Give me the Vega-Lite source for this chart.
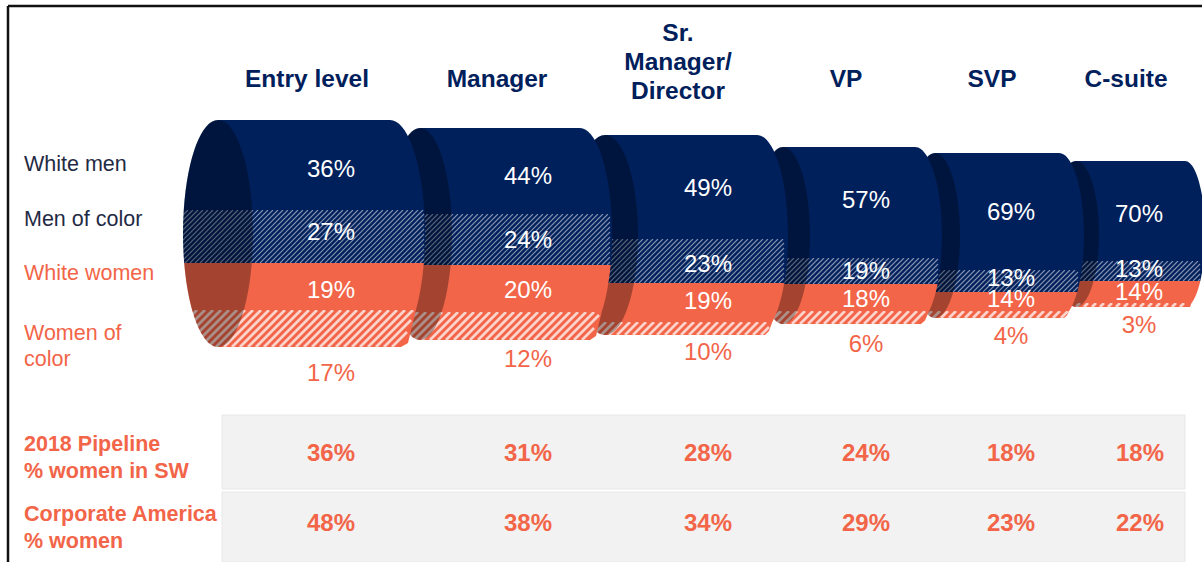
{"$schema":"https://vega.github.io/schema/vega-lite/v6.json","width":1202,"height":562,"padding":0,"autosize":{"type":"none"},"background":"white","view":{"stroke":null},
"resolve":{"scale":{"fill":"independent","stroke":"independent","strokeWidth":"independent","shape":"independent"}},
"encoding":{"x":{"field":"x","type":"quantitative","axis":null,"scale":{"domain":[0,1202],"nice":false,"zero":false}},"y":{"field":"y","type":"quantitative","axis":null,"scale":{"domain":[562,0],"nice":false,"zero":false}}},
"layer":[
{"data":{"values":[{"x":8,"x2":1202,"y":6,"y2":6},{"x":8,"x2":8,"y":6,"y2":562}]},"mark":{"type":"rule","stroke":"#111111","strokeWidth":2.5},"encoding":{"x2":{"field":"x2"},"y2":{"field":"y2"}}},
{"data":{"values":[{"row":"2018 Pipeline","x":222,"x2":1185,"y":415,"y2":489},{"row":"Corporate America","x":222,"x2":1185,"y":492,"y2":562}]},"mark":{"type":"rect","fill":"#f2f2f2","stroke":"#e8e8e8","strokeWidth":1},"encoding":{"x2":{"field":"x2"},"y2":{"field":"y2"}}},
{"data":{"values":[
{"level":"C-suite","group":"Men of color","share":13,"piece":"C2","part":"Men of color","x":1076,"y":234},
{"level":"C-suite","group":"Women of color","share":3,"piece":"C4","part":"Women of color","x":1076,"y":234},
{"level":"C-suite","group":"Men of color","piece":"CN","part":"stripe navy","x":1058,"y":281},
{"level":"C-suite","group":"Women of color","piece":"CO","part":"stripe orange","x":1068,"y":307},
{"level":"C-suite","group":"White men","share":70,"piece":"C1","part":"White men","x":1076,"y":234},
{"level":"C-suite","group":"White women","share":14,"piece":"C3","part":"White women","x":1076,"y":234},
{"level":"C-suite","piece":"CC","part":"cap","x":1076,"y":234},
{"level":"SVP","group":"Men of color","share":13,"piece":"S2","part":"Men of color","x":935,"y":235.5},
{"level":"SVP","group":"Women of color","share":4,"piece":"S4","part":"Women of color","x":935,"y":235.5},
{"level":"SVP","group":"Men of color","piece":"SN","part":"stripe navy","x":913,"y":292},
{"level":"SVP","group":"Women of color","piece":"SO","part":"stripe orange","x":925,"y":318},
{"level":"SVP","group":"White men","share":69,"piece":"S1","part":"White men","x":935,"y":235.5},
{"level":"SVP","group":"White women","share":14,"piece":"S3","part":"White women","x":935,"y":235.5},
{"level":"SVP","piece":"SC","part":"cap","x":935,"y":235.5},
{"level":"VP","group":"Men of color","share":19,"piece":"V2","part":"Men of color","x":783,"y":235.5},
{"level":"VP","group":"Women of color","share":6,"piece":"V4","part":"Women of color","x":783,"y":235.5},
{"level":"VP","group":"Men of color","piece":"VN","part":"stripe navy","x":758,"y":284},
{"level":"VP","group":"Women of color","piece":"VO","part":"stripe orange","x":768,"y":324},
{"level":"VP","group":"White men","share":57,"piece":"V1","part":"White men","x":783,"y":235.5},
{"level":"VP","group":"White women","share":18,"piece":"V3","part":"White women","x":783,"y":235.5},
{"level":"VP","piece":"VC","part":"cap","x":783,"y":235.5},
{"level":"Sr. Manager/Director","group":"Men of color","share":23,"piece":"D2","part":"Men of color","x":605,"y":235},
{"level":"Sr. Manager/Director","group":"Women of color","share":10,"piece":"D4","part":"Women of color","x":605,"y":235},
{"level":"Sr. Manager/Director","group":"Men of color","piece":"DN","part":"stripe navy","x":564,"y":283},
{"level":"Sr. Manager/Director","group":"Women of color","piece":"DO","part":"stripe orange","x":585,"y":335},
{"level":"Sr. Manager/Director","group":"White men","share":49,"piece":"D1","part":"White men","x":605,"y":235},
{"level":"Sr. Manager/Director","group":"White women","share":19,"piece":"D3","part":"White women","x":605,"y":235},
{"level":"Sr. Manager/Director","piece":"DC","part":"cap","x":605,"y":235},
{"level":"Manager","group":"Men of color","share":24,"piece":"M2","part":"Men of color","x":420,"y":234},
{"level":"Manager","group":"Women of color","share":12,"piece":"M4","part":"Women of color","x":420,"y":234},
{"level":"Manager","group":"Men of color","piece":"MN","part":"stripe navy","x":372,"y":265},
{"level":"Manager","group":"Women of color","piece":"MO","part":"stripe orange","x":390,"y":340},
{"level":"Manager","group":"White men","share":44,"piece":"M1","part":"White men","x":420,"y":234},
{"level":"Manager","group":"White women","share":20,"piece":"M3","part":"White women","x":420,"y":234},
{"level":"Manager","piece":"MC","part":"cap","x":420,"y":234},
{"level":"Entry level","group":"Men of color","share":27,"piece":"E2","part":"Men of color","x":218,"y":233.5},
{"level":"Entry level","group":"Women of color","share":17,"piece":"E4","part":"Women of color","x":218,"y":233.5},
{"level":"Entry level","group":"Men of color","piece":"EN","part":"stripe navy","x":135,"y":263},
{"level":"Entry level","group":"Women of color","piece":"EO","part":"stripe orange","x":160,"y":347},
{"level":"Entry level","group":"White men","share":36,"piece":"E1","part":"White men","x":218,"y":233.5},
{"level":"Entry level","group":"White women","share":19,"piece":"E3","part":"White women","x":218,"y":233.5},
{"level":"Entry level","piece":"EC","part":"cap","x":218,"y":233.5}
]},
"mark":{"type":"point","filled":true,"opacity":1},
"encoding":{
"size":{"value":4},
"fill":{"field":"part","type":"nominal","legend":null,"scale":{"domain":["White men","Men of color","White women","Women of color","stripe navy","stripe orange","cap"],"range":["#00205c","#00205c","#f26548","#f26548","transparent","transparent","rgba(0,0,0,0.32)"]}},
"stroke":{"field":"part","type":"nominal","legend":null,"scale":{"domain":["White men","Men of color","White women","Women of color","stripe navy","stripe orange","cap"],"range":["transparent","transparent","transparent","transparent","rgba(255,255,255,0.5)","rgba(255,255,255,0.72)","transparent"]}},
"strokeWidth":{"field":"part","type":"ordinal","legend":null,"scale":{"type":"ordinal","domain":["White men","Men of color","White women","Women of color","stripe navy","stripe orange","cap"],"range":[0,0,0,0,1.1,2.7,0]}},
"shape":{"field":"piece","type":"nominal","legend":null,"scale":{"domain":["E1","E2","E3","E4","EC","EN","EO","M1","M2","M3","M4","MC","MN","MO","D1","D2","D3","D4","DC","DN","DO","V1","V2","V3","V4","VC","VN","VO","S1","S2","S3","S4","SC","SN","SO","C1","C2","C3","C4","CC","CN","CO"],
"range":[
"M0 -113.5A35 113.5 0 0 0 -34.2 -23.5L206.2 -23.5A35 113.5 0 0 0 172 -113.5Z",
"M-34.2 -23.5A35 113.5 0 0 0 -33.8 29.5L205.8 29.5A35 113.5 0 0 0 206.2 -23.5Z",
"M-33.8 29.5A35 113.5 0 0 0 -25.9 76.5L197.9 76.5A35 113.5 0 0 0 205.8 29.5Z",
"M-25.9 76.5A35 113.5 0 0 0 0 113.5L183 113.5L190 109.5L197.9 76.5Z",
"M-35 0A35 113.5 0 1 0 35 0A35 113.5 0 1 0 -35 0Z",
"M0 0l53 -53M5 0l53 -53M10 0l53 -53M15 0l53 -53M20 0l53 -53M25 0l53 -53M30 0l53 -53M35 0l53 -53M40 0l53 -53M45 0l53 -53M50 0l53 -53M55 0l53 -53M60 0l53 -53M65 0l53 -53M70 0l53 -53M75 0l53 -53M80 0l53 -53M85 0l53 -53M90 0l53 -53M95 0l53 -53M100 0l53 -53M105 0l53 -53M110 0l53 -53M115 0l53 -53M120 0l53 -53M125 0l53 -53M130 0l53 -53M135 0l53 -53M140 0l53 -53M145 0l53 -53M150 0l53 -53M155 0l53 -53M160 0l53 -53M165 0l53 -53M170 0l53 -53M175 0l53 -53M180 0l53 -53M185 0l53 -53M190 0l53 -53M195 0l53 -53M200 0l53 -53M205 0l53 -53M210 0l53 -53M215 0l53 -53M220 0l53 -53M225 0l53 -53M230 0l53 -53M235 0l53 -53M240 0l49 -49M245 0l44 -44M250 0l39 -39M255 0l34 -34M260 0l29 -29M265 0l24 -24M270 0l19 -19M275 0l14 -14M280 0l9 -9M285 0l4 -4",
"M0 0l37 -37M8 0l37 -37M16 0l37 -37M24 0l37 -37M32 0l37 -37M40 0l37 -37M48 0l37 -37M56 0l37 -37M64 0l37 -37M72 0l37 -37M80 0l37 -37M88 0l37 -37M96 0l37 -37M104 0l37 -37M112 0l37 -37M120 0l37 -37M128 0l37 -37M136 0l37 -37M144 0l37 -37M152 0l37 -37M160 0l37 -37M168 0l37 -37M176 0l37 -37M184 0l37 -37M192 0l37 -37M200 0l37 -37M208 0l37 -37M216 0l37 -37M224 0l27 -27M232 0l15 -15",
"M0 -106A32 106 0 0 0 -31.4 -20L191.4 -20A32 106 0 0 0 160 -106Z",
"M-31.4 -20A32 106 0 0 0 -30.6 31L190.6 31A32 106 0 0 0 191.4 -20Z",
"M-30.6 31A32 106 0 0 0 -21.7 78L181.7 78A32 106 0 0 0 190.6 31Z",
"M-21.7 78A32 106 0 0 0 0 106L170 106L176 102L181.7 78Z",
"M-32 0A32 106 0 1 0 32 0A32 106 0 1 0 -32 0Z",
"M0 0l51 -51M5 0l51 -51M10 0l51 -51M15 0l51 -51M20 0l51 -51M25 0l51 -51M30 0l51 -51M35 0l51 -51M40 0l51 -51M45 0l51 -51M50 0l51 -51M55 0l51 -51M60 0l51 -51M65 0l51 -51M70 0l51 -51M75 0l51 -51M80 0l51 -51M85 0l51 -51M90 0l51 -51M95 0l51 -51M100 0l51 -51M105 0l51 -51M110 0l51 -51M115 0l51 -51M120 0l51 -51M125 0l51 -51M130 0l51 -51M135 0l51 -51M140 0l51 -51M145 0l51 -51M150 0l51 -51M155 0l51 -51M160 0l51 -51M165 0l51 -51M170 0l51 -51M175 0l51 -51M180 0l51 -51M185 0l51 -51M190 0l48 -48M195 0l43 -43M200 0l38 -38M205 0l33 -33M210 0l28 -28M215 0l23 -23M220 0l18 -18M225 0l13 -13M230 0l8 -8M235 0l3 -3",
"M0 0l28 -28M8 0l28 -28M16 0l28 -28M24 0l28 -28M32 0l28 -28M40 0l28 -28M48 0l28 -28M56 0l28 -28M64 0l28 -28M72 0l28 -28M80 0l28 -28M88 0l28 -28M96 0l28 -28M104 0l28 -28M112 0l28 -28M120 0l28 -28M128 0l28 -28M136 0l28 -28M144 0l28 -28M152 0l28 -28M160 0l28 -28M168 0l28 -28M176 0l28 -28M184 0l25 -25M192 0l12 -12",
"M0 -100A33 100 0 0 0 -33 4L183 4A31 100 0 0 0 152 -100Z",
"M-33 4A33 100 0 0 0 -28.9 48L179.2 48A31 100 0 0 0 183 4Z",
"M-28.9 48A33 100 0 0 0 -16.3 87L167.3 87A31 100 0 0 0 179.2 48Z",
"M-16.3 87A33 100 0 0 0 0 100L160 100L164 96L167.3 87Z",
"M-33 0A33 100 0 1 0 33 0A33 100 0 1 0 -33 0Z",
"M0 0l44 -44M5 0l44 -44M10 0l44 -44M15 0l44 -44M20 0l44 -44M25 0l44 -44M30 0l44 -44M35 0l44 -44M40 0l44 -44M45 0l44 -44M50 0l44 -44M55 0l44 -44M60 0l44 -44M65 0l44 -44M70 0l44 -44M75 0l44 -44M80 0l44 -44M85 0l44 -44M90 0l44 -44M95 0l44 -44M100 0l44 -44M105 0l44 -44M110 0l44 -44M115 0l44 -44M120 0l44 -44M125 0l44 -44M130 0l44 -44M135 0l44 -44M140 0l44 -44M145 0l44 -44M150 0l44 -44M155 0l44 -44M160 0l44 -44M165 0l44 -44M170 0l44 -44M175 0l44 -44M180 0l40 -40M185 0l35 -35M190 0l30 -30M195 0l25 -25M200 0l20 -20M205 0l15 -15M210 0l10 -10M215 0l5 -5",
"M0 0l13 -13M8 0l13 -13M16 0l13 -13M24 0l13 -13M32 0l13 -13M40 0l13 -13M48 0l13 -13M56 0l13 -13M64 0l13 -13M72 0l13 -13M80 0l13 -13M88 0l13 -13M96 0l13 -13M104 0l13 -13M112 0l13 -13M120 0l13 -13M128 0l13 -13M136 0l13 -13M144 0l13 -13M152 0l13 -13M160 0l13 -13M168 0l13 -13M176 0l8 -8",
"M0 -88.5A27 88.5 0 0 0 -26.1 22.5L158.1 22.5A27 88.5 0 0 0 132 -88.5Z",
"M-26.1 22.5A27 88.5 0 0 0 -22.6 48.5L154.6 48.5A27 88.5 0 0 0 158.1 22.5Z",
"M-22.6 48.5A27 88.5 0 0 0 -14.1 75.5L146.1 75.5A27 88.5 0 0 0 154.6 48.5Z",
"M-14.1 75.5A27 88.5 0 0 0 0 88.5L138 88.5L142 85L146.1 75.5Z",
"M-27 0A27 88.5 0 1 0 27 0A27 88.5 0 1 0 -27 0Z",
"M0 0l26 -26M5 0l26 -26M10 0l26 -26M15 0l26 -26M20 0l26 -26M25 0l26 -26M30 0l26 -26M35 0l26 -26M40 0l26 -26M45 0l26 -26M50 0l26 -26M55 0l26 -26M60 0l26 -26M65 0l26 -26M70 0l26 -26M75 0l26 -26M80 0l26 -26M85 0l26 -26M90 0l26 -26M95 0l26 -26M100 0l26 -26M105 0l26 -26M110 0l26 -26M115 0l26 -26M120 0l26 -26M125 0l26 -26M130 0l26 -26M135 0l26 -26M140 0l26 -26M145 0l26 -26M150 0l26 -26M155 0l25 -25M160 0l20 -20M165 0l15 -15M170 0l10 -10M175 0l5 -5",
"M0 0l13 -13M8 0l13 -13M16 0l13 -13M24 0l13 -13M32 0l13 -13M40 0l13 -13M48 0l13 -13M56 0l13 -13M64 0l13 -13M72 0l13 -13M80 0l13 -13M88 0l13 -13M96 0l13 -13M104 0l13 -13M112 0l13 -13M120 0l13 -13M128 0l13 -13M136 0l13 -13M144 0l13 -13",
"M0 -82.5A25 82.5 0 0 0 -22.7 34.5L146.7 34.5A25 82.5 0 0 0 124 -82.5Z",
"M-22.7 34.5A25 82.5 0 0 0 -18.2 56.5L142.2 56.5A25 82.5 0 0 0 146.7 34.5Z",
"M-18.2 56.5A25 82.5 0 0 0 -10.1 75.5L134.1 75.5A25 82.5 0 0 0 142.2 56.5Z",
"M-10.1 75.5A25 82.5 0 0 0 0 82.5L129 82.5L132 80L134.1 75.5Z",
"M-25 0A25 82.5 0 1 0 25 0A25 82.5 0 1 0 -25 0Z",
"M0 0l22 -22M5 0l22 -22M10 0l22 -22M15 0l22 -22M20 0l22 -22M25 0l22 -22M30 0l22 -22M35 0l22 -22M40 0l22 -22M45 0l22 -22M50 0l22 -22M55 0l22 -22M60 0l22 -22M65 0l22 -22M70 0l22 -22M75 0l22 -22M80 0l22 -22M85 0l22 -22M90 0l22 -22M95 0l22 -22M100 0l22 -22M105 0l22 -22M110 0l22 -22M115 0l22 -22M120 0l22 -22M125 0l22 -22M130 0l22 -22M135 0l22 -22M140 0l22 -22M145 0l20 -20M150 0l15 -15M155 0l10 -10M160 0l5 -5",
"M0 0l7 -7M8 0l7 -7M16 0l7 -7M24 0l7 -7M32 0l7 -7M40 0l7 -7M48 0l7 -7M56 0l7 -7M64 0l7 -7M72 0l7 -7M80 0l7 -7M88 0l7 -7M96 0l7 -7M104 0l7 -7M112 0l7 -7M120 0l7 -7M128 0l7 -7M136 0l7 -7",
"M0 -73A23 73 0 0 0 -21.4 27L127.6 27A20 73 0 0 0 109 -73Z",
"M-21.4 27A23 73 0 0 0 -17.6 47L124.3 47A20 73 0 0 0 127.6 27Z",
"M-17.6 47A23 73 0 0 0 -7.5 69L115.5 69A20 73 0 0 0 124.3 47Z",
"M-7.5 69A23 73 0 0 0 0 73L114 73L115.5 69Z",
"M-23 0A23 73 0 1 0 23 0A23 73 0 1 0 -23 0Z",
"M0 0l20 -20M5 0l20 -20M10 0l20 -20M15 0l20 -20M20 0l20 -20M25 0l20 -20M30 0l20 -20M35 0l20 -20M40 0l20 -20M45 0l20 -20M50 0l20 -20M55 0l20 -20M60 0l20 -20M65 0l20 -20M70 0l20 -20M75 0l20 -20M80 0l20 -20M85 0l20 -20M90 0l20 -20M95 0l20 -20M100 0l20 -20M105 0l20 -20M110 0l20 -20M115 0l20 -20M120 0l20 -20M125 0l17 -17M130 0l12 -12M135 0l7 -7M140 0l2 -2",
"M0 0l4 -4M8 0l4 -4M16 0l4 -4M24 0l4 -4M32 0l4 -4M40 0l4 -4M48 0l4 -4M56 0l4 -4M64 0l4 -4M72 0l4 -4M80 0l4 -4M88 0l4 -4M96 0l4 -4M104 0l4 -4M112 0l4 -4"
]}}
}},
{"data":{"values":[
{"t":"Entry level","x":307,"y":79},{"t":"Manager","x":497,"y":79},{"t":"Sr.","x":678,"y":33},{"t":"Manager/","x":678,"y":62},{"t":"Director","x":678,"y":91},{"t":"VP","x":846,"y":79},{"t":"SVP","x":992,"y":79},{"t":"C-suite","x":1126,"y":79}
]},"mark":{"type":"text","font":"Liberation Sans","fontWeight":"bold","fontSize":24.5,"fill":"#00205c","align":"center","baseline":"middle","dy":1},"encoding":{"text":{"field":"t"}}},
{"data":{"values":[
{"t":"White men","c":"dark","x":24,"y":164},{"t":"Men of color","c":"dark","x":24,"y":219},{"t":"White women","c":"orange","x":24,"y":273},{"t":"Women of","c":"orange","x":24,"y":333},{"t":"color","c":"orange","x":24,"y":359}
]},"mark":{"type":"text","font":"Liberation Sans","fontSize":21.5,"align":"left","baseline":"middle","dy":1},"encoding":{"text":{"field":"t"},"fill":{"field":"c","type":"nominal","legend":null,"scale":{"domain":["dark","orange"],"range":["#1f2a44","#f26548"]}}}},
{"data":{"values":[
{"level":"Entry level","group":"White men","t":"36%","x":331,"y":169},{"level":"Entry level","group":"Men of color","t":"27%","x":331,"y":232},{"level":"Entry level","group":"White women","t":"19%","x":331,"y":290},{"level":"Entry level","group":"Women of color","t":"17%","x":331,"y":373},
{"level":"Manager","group":"White men","t":"44%","x":528,"y":176},{"level":"Manager","group":"Men of color","t":"24%","x":528,"y":240},{"level":"Manager","group":"White women","t":"20%","x":528,"y":290},{"level":"Manager","group":"Women of color","t":"12%","x":528,"y":359},
{"level":"Sr. Manager/Director","group":"White men","t":"49%","x":708,"y":188},{"level":"Sr. Manager/Director","group":"Men of color","t":"23%","x":708,"y":264},{"level":"Sr. Manager/Director","group":"White women","t":"19%","x":708,"y":301},{"level":"Sr. Manager/Director","group":"Women of color","t":"10%","x":708,"y":352},
{"level":"VP","group":"White men","t":"57%","x":866,"y":200},{"level":"VP","group":"Men of color","t":"19%","x":866,"y":271},{"level":"VP","group":"White women","t":"18%","x":866,"y":299},{"level":"VP","group":"Women of color","t":"6%","x":866,"y":344},
{"level":"SVP","group":"White men","t":"69%","x":1011,"y":212},{"level":"SVP","group":"Men of color","t":"13%","x":1011,"y":278},{"level":"SVP","group":"White women","t":"14%","x":1011,"y":299},{"level":"SVP","group":"Women of color","t":"4%","x":1011,"y":336},
{"level":"C-suite","group":"White men","t":"70%","x":1139,"y":214},{"level":"C-suite","group":"Men of color","t":"13%","x":1139,"y":269},{"level":"C-suite","group":"White women","t":"14%","x":1139,"y":292},{"level":"C-suite","group":"Women of color","t":"3%","x":1139,"y":325}
]},"mark":{"type":"text","font":"Liberation Sans","fontSize":24,"align":"center","baseline":"middle","dy":1},"encoding":{"text":{"field":"t"},"fill":{"field":"group","type":"nominal","legend":null,"scale":{"domain":["White men","Men of color","White women","Women of color"],"range":["#ffffff","#ffffff","#ffffff","#f26548"]}}}},
{"data":{"values":[
{"t":"36%","x":331,"y":453},{"t":"31%","x":528,"y":453},{"t":"28%","x":708,"y":453},{"t":"24%","x":866,"y":453},{"t":"18%","x":1011,"y":453},{"t":"18%","x":1140,"y":453},
{"t":"48%","x":331,"y":523},{"t":"38%","x":528,"y":523},{"t":"34%","x":708,"y":523},{"t":"29%","x":866,"y":523},{"t":"23%","x":1011,"y":523},{"t":"22%","x":1140,"y":523}
]},"mark":{"type":"text","font":"Liberation Sans","fontWeight":"bold","fontSize":24,"fill":"#f26548","align":"center","baseline":"middle","dy":1},"encoding":{"text":{"field":"t"}}},
{"data":{"values":[
{"t":"2018 Pipeline","x":24,"y":444},{"t":"% women in SW","x":24,"y":471},{"t":"Corporate America","x":24,"y":514},{"t":"% women","x":24,"y":541}
]},"mark":{"type":"text","font":"Liberation Sans","fontWeight":"bold","fontSize":21.5,"fill":"#f26548","align":"left","baseline":"middle","dy":1},"encoding":{"text":{"field":"t"}}}
]}
